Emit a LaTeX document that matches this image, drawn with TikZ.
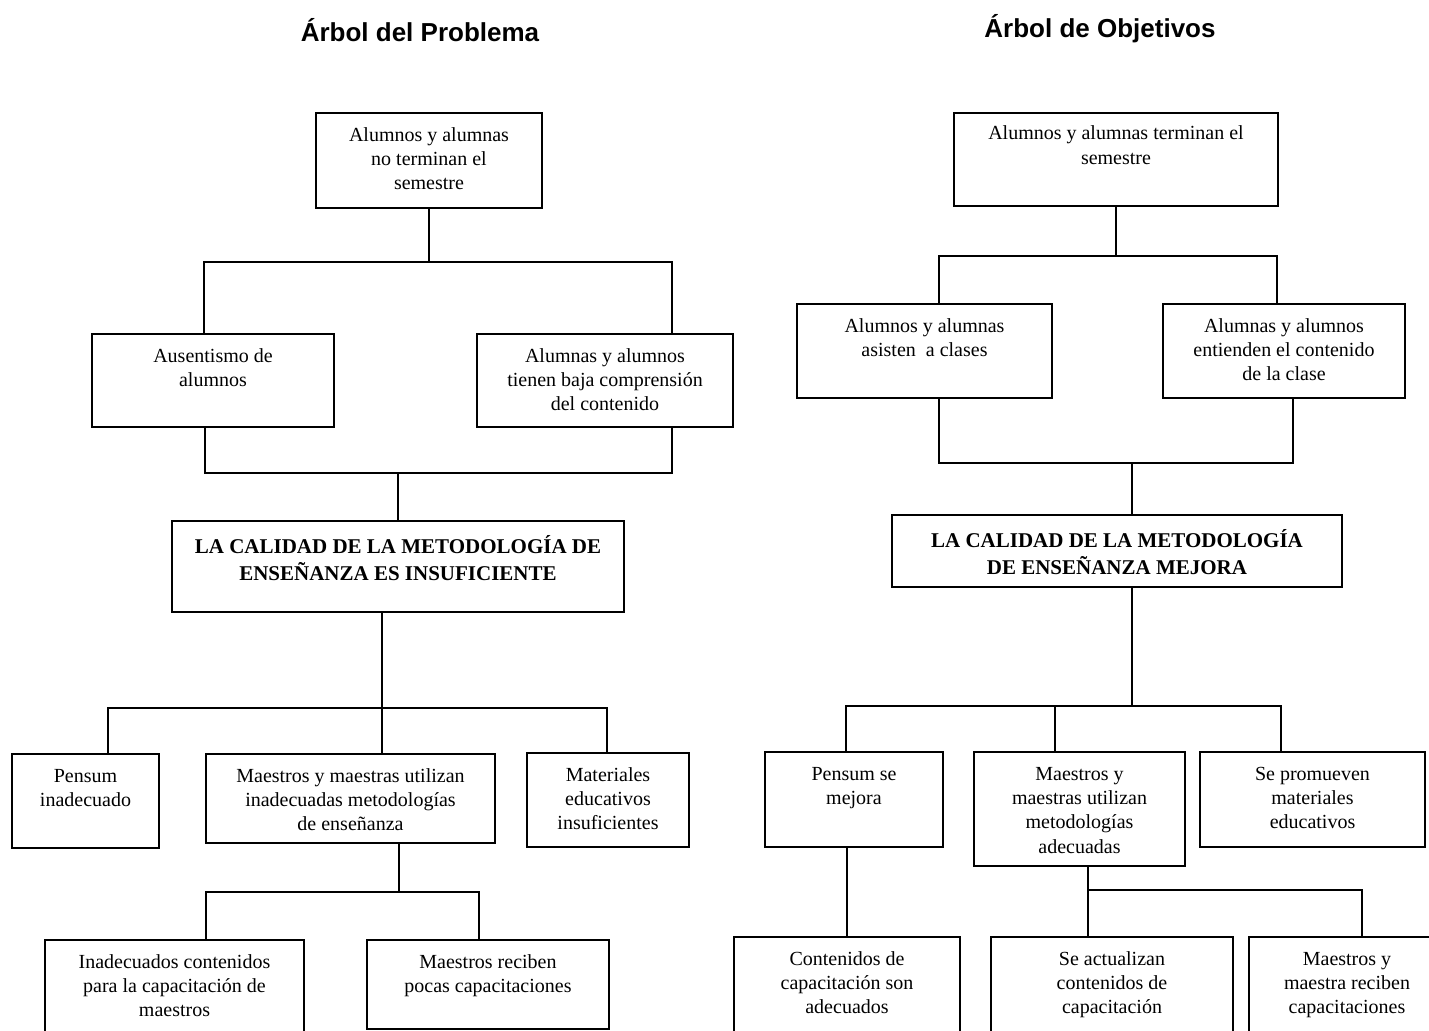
\documentclass[tikz,border=0pt]{standalone}
\usepackage{fontspec}
\setmainfont{Liberation Serif}
\newfontfamily\titulofont{Liberation Sans}
\usetikzlibrary{calc, positioning}
\tikzstyle{caja} = [rectangle, draw=black, line width=0.9pt, inner sep=0pt, font=\fontsize{10}{12.2}\selectfont]
\tikzstyle{central} = [caja, font=\fontsize{10.5}{12.4}\selectfont\bfseries]
\tikzstyle{titulo} = [font=\titulofont\bfseries\fontsize{13}{15}\selectfont]
\tikzstyle{linea} = [line width=0.9pt]
\newcommand{\texto}[4][5.5pt]{\parbox[c][#3][t]{#2}{\centering\vspace*{#1}\strut #4}}

\begin{document}
\begin{tikzpicture}[x=0.5pt, y=-0.5pt]
		\useasboundingbox (0,0) rectangle (1429,1031);
		\clip (0,0) rectangle (1429,1031);
		\fill [white] (0,0) rectangle (1429,1031);
		% arbol del problema
		\node (TituloProblema) [titulo] at (420,30) {Árbol del Problema};
		\node (EfectoTop) [caja] at (429,160.5) {\texto{113pt}{47.5pt}{Alumnos y alumnas\\no terminan el\\semestre}};
		\node (EfectoIzq) [caja] at (213,380.5) {\texto{121pt}{46.5pt}{Ausentismo de\\alumnos}};
		\node (EfectoDer) [caja] at (605,380.5) {\texto{128pt}{46.5pt}{Alumnas y alumnos\\tienen baja comprensión\\del contenido}};
		\node (Problema) [central] at (398,566.5) {\texto[7pt]{226pt}{45.5pt}{LA CALIDAD DE LA METODOLOGÍA DE\\ENSEÑANZA ES INSUFICIENTE}};
		\node (CausaA) [caja] at (85.5,801) {\texto{73.5pt}{47pt}{Pensum\\inadecuado}};
		\node (CausaB) [caja] at (350.5,798.5) {\texto{144.5pt}{44.5pt}{Maestros y maestras utilizan\\inadecuadas metodologías\\de enseñanza}};
		\node (CausaC) [caja] at (608,800) {\texto{81pt}{47pt}{Materiales\\educativos\\insuficientes}};
		\node (SubCausaA) [caja] at (174.5,1000) {\texto{129.5pt}{60pt}{Inadecuados contenidos\\para la capacitación de\\maestros}};
		\node (SubCausaB) [caja] at (488,984.5) {\texto{121pt}{44.5pt}{Maestros reciben\\pocas capacitaciones}};
		\coordinate (BrazoIzq) at (204,262);
		\coordinate (BrazoDer) at (672,262);
		\coordinate (UnionIzq) at (205,473);
		\coordinate (UnionDer) at (672,473);
		\coordinate (RamaIzq) at (108,708);
		\coordinate (RamaCentro) at (382,708);
		\coordinate (RamaDer) at (607,708);
		\coordinate (SubIzq) at (206,892);
		\coordinate (SubCentro) at (399,892);
		\coordinate (SubDer) at (479,892);
		\draw [linea] (EfectoTop.south) -- (EfectoTop.south |- BrazoIzq);
		\draw [linea] (EfectoIzq.north -| BrazoIzq) -- (BrazoIzq) -- (BrazoDer) -- (EfectoDer.north -| BrazoDer);
		\draw [linea] (EfectoIzq.south -| UnionIzq) -- (UnionIzq) -- (UnionDer) -- (EfectoDer.south -| UnionDer);
		\draw [linea] (Problema.north) -- (Problema.north |- UnionIzq);
		\draw [linea] (Problema.south -| RamaCentro) -- (CausaB.north -| RamaCentro);
		\draw [linea] (CausaA.north -| RamaIzq) -- (RamaIzq) -- (RamaDer) -- (CausaC.north -| RamaDer);
		\draw [linea] (CausaB.south -| SubCentro) -- (SubCentro);
		\draw [linea] (SubCausaA.north -| SubIzq) -- (SubIzq) -- (SubDer) -- (SubCausaB.north -| SubDer);
		% arbol de objetivos
		\node (TituloObjetivos) [titulo] at (1100,29) {Árbol de Objetivos};
		\node (FinTop) [caja] at (1116,159.5) {\texto[4.8pt]{162pt}{46.5pt}{Alumnos y alumnas terminan el\\semestre}};
		\node (FinIzq) [caja] at (924.5,351) {\texto{127.5pt}{47pt}{Alumnos y alumnas\\asisten~~a~clases}};
		\node (FinDer) [caja] at (1284,351) {\texto{121pt}{47pt}{Alumnas y alumnos\\entienden el contenido\\de la clase}};
		\node (Objetivo) [central] at (1117,551) {\texto[7pt]{225pt}{36pt}{LA CALIDAD DE LA METODOLOGÍA\\DE ENSEÑANZA MEJORA}};
		\node (MedioA) [caja] at (854,799.5) {\texto{89pt}{47.5pt}{Pensum se\\mejora}};
		\node (MedioB) [caja] at (1079.5,809) {\texto{105.5pt}{57pt}{Maestros y\\maestras utilizan\\metodologías\\adecuadas}};
		\node (MedioC) [caja] at (1312.5,799.5) {\texto{112.5pt}{47.5pt}{Se promueven\\materiales\\educativos}};
		\node (SubMedioA) [caja] at (847,998.5) {\texto{113pt}{61.5pt}{Contenidos de\\capacitación son\\adecuados}};
		\node (SubMedioB) [caja] at (1112,998.5) {\texto{121pt}{61.5pt}{Se actualizan\\contenidos de\\capacitación}};
		\node (SubMedioC) [caja] at (1347,998.5) {\texto{98pt}{61.5pt}{Maestros y\\maestra reciben\\capacitaciones}};
		\coordinate (RamaFinIzq) at (939,256);
		\coordinate (RamaFinDer) at (1277,256);
		\coordinate (UnionFinIzq) at (939,463);
		\coordinate (UnionFinCentro) at (1132,463);
		\coordinate (UnionFinDer) at (1293,463);
		\coordinate (EjeObjetivo) at (1132,706);
		\coordinate (RamaMedioIzq) at (846,706);
		\coordinate (RamaMedioCentro) at (1055,706);
		\coordinate (RamaMedioDer) at (1281,706);
		\coordinate (SubMedioCentro) at (1088,890);
		\coordinate (SubMedioDer) at (1362,890);
		\draw [linea] (FinTop.south) -- (FinTop.south |- RamaFinIzq);
		\draw [linea] (FinIzq.north -| RamaFinIzq) -- (RamaFinIzq) -- (RamaFinDer) -- (FinDer.north -| RamaFinDer);
		\draw [linea] (FinIzq.south -| UnionFinIzq) -- (UnionFinIzq) -- (UnionFinDer) -- (FinDer.south -| UnionFinDer);
		\draw [linea] (UnionFinCentro) -- (Objetivo.north -| UnionFinCentro);
		\draw [linea] (Objetivo.south -| EjeObjetivo) -- (EjeObjetivo);
		\draw [linea] (MedioA.north -| RamaMedioIzq) -- (RamaMedioIzq) -- (RamaMedioDer) -- (MedioC.north -| RamaMedioDer);
		\draw [linea] (RamaMedioCentro) -- (MedioB.north -| RamaMedioCentro);
		\draw [linea] (MedioA.south -| SubMedioA.north) -- (SubMedioA.north);
		\draw [linea] (MedioB.south -| SubMedioCentro) -- (SubMedioB.north -| SubMedioCentro);
		\draw [linea] (SubMedioCentro) -- (SubMedioDer) -- (SubMedioC.north -| SubMedioDer);
	\end{tikzpicture}
\end{document}
